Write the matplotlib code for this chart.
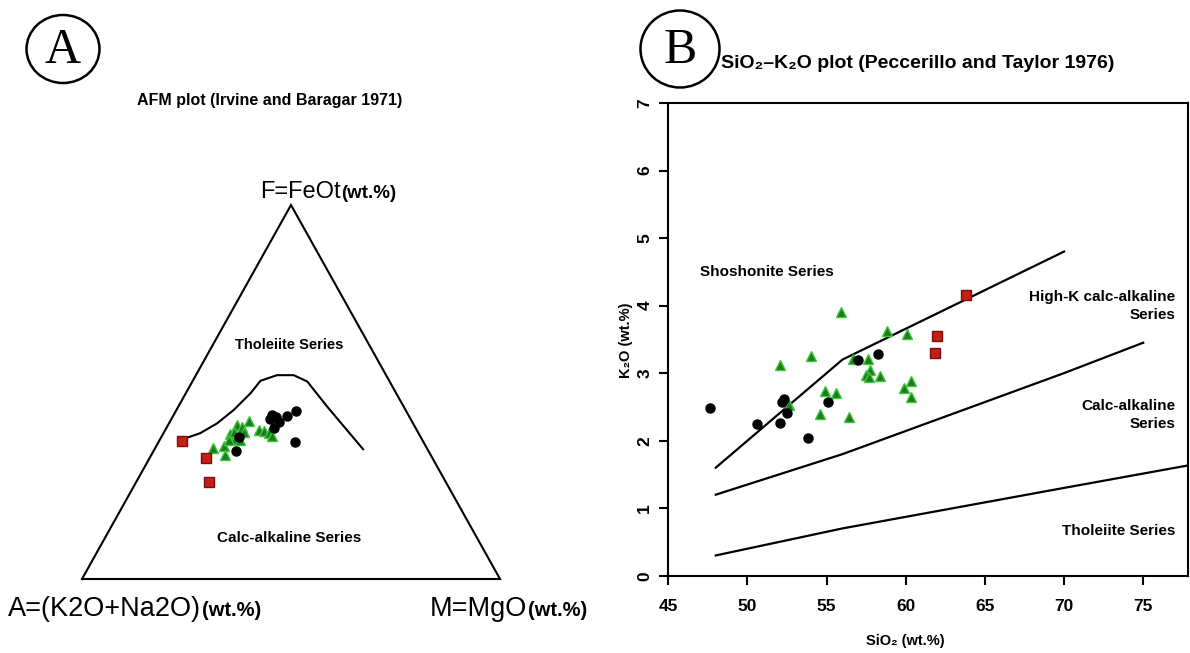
import matplotlib
matplotlib.use('Agg')
import matplotlib.pyplot as plt
from matplotlib.patches import Ellipse
import numpy as np

# ---------------- Panel A data (ternary, %): A=(K2O+Na2O), F=FeOt, M=MgO
curve_A = [56.5, 52.2, 46.9, 41.1, 34.8, 30.8, 26.1, 22.1, 19.7, 18.3, 15.4]
curve_F = [37.6, 39.0, 41.6, 45.2, 49.7, 53.0, 54.5, 54.5, 52.8, 46.1, 34.7]
curve_M = [5.9, 8.8, 11.5, 13.7, 15.5, 16.2, 19.4, 23.4, 27.5, 35.6, 49.9]

red_A = [57.6, 54.2, 56.5]
red_F = [36.9, 32.3, 26.0]
red_M = [5.5, 13.5, 17.5]

black_A = [32.6, 32.0, 31.9, 29.1, 26.4, 34.0, 30.6, 43.4, 46.0, 33.7]
black_F = [43.9, 43.4, 42.1, 43.6, 45.0, 40.3, 36.7, 37.9, 34.3, 42.7]
black_M = [23.5, 24.6, 26.0, 27.3, 28.6, 25.7, 32.7, 18.7, 19.7, 23.6]

green_A = [51.3, 48.3, 49.1, 45.2, 42.3, 41.4, 39.0, 44.6, 44.0, 37.7, 36.5, 35.8, 35.4, 43.5, 46.3, 41.6]
green_F = [34.9, 35.6, 33.2, 38.8, 41.2, 40.7, 42.2, 37.4, 39.4, 39.8, 39.7, 39.1, 38.2, 37.2, 37.2, 39.4]
green_M = [13.8, 16.1, 17.7, 16.0, 16.5, 17.9, 18.8, 18.0, 16.6, 22.5, 23.8, 25.1, 26.4, 19.3, 16.5, 19.0]

# ---------------- Panel B data: SiO2 vs K2O (wt.%)
line_th_x = [48, 52, 56, 63, 70, 78]
line_th_y = [0.3, 0.5, 0.7, 1.0, 1.3, 1.64]
line_ca_x = [48, 52, 56, 63, 70, 75]
line_ca_y = [1.2, 1.5, 1.8, 2.4, 3.0, 3.45]
line_hk_x = [48, 52, 56, 63, 70]
line_hk_y = [1.6, 2.4, 3.2, 4.0, 4.8]

b_black_x = [47.63, 50.58, 52.06, 52.31, 52.16, 52.52, 53.84, 55.07, 57.00, 58.27]
b_black_y = [2.49, 2.25, 2.26, 2.61, 2.57, 2.41, 2.04, 2.57, 3.20, 3.28]
b_green_x = [52.05, 54.00, 55.91, 52.62, 54.90, 55.57, 54.58, 56.43, 56.69, 57.63,
             57.74, 57.47, 57.68, 58.37, 58.80, 60.06, 59.89, 60.33, 60.31]
b_green_y = [3.12, 3.26, 3.91, 2.53, 2.73, 2.71, 2.40, 2.35, 3.21, 3.21,
             3.04, 2.97, 2.94, 2.95, 3.62, 3.58, 2.78, 2.89, 2.65]
b_red_x = [63.79, 61.96, 61.85]
b_red_y = [4.16, 3.55, 3.30]

x_ticks = [45, 50, 55, 60, 65, 70, 75]
y_ticks = [0, 1, 2, 3, 4, 5, 6, 7]

# ---------------- figure
W, H = 1190, 653
fig = plt.figure(figsize=(W / 100, H / 100), dpi=100)
FONT = ['Liberation Sans', 'DejaVu Sans']
plt.rcParams['font.family'] = FONT


def fx(px):
    return px / W


def fy(py):
    return 1 - py / H


GREEN_FC, GREEN_EC = '#1f7a1f', '#39c839'
RED_FC, RED_EC = '#c41e16', '#7a0e0a'

# ---------------- Panel A
SQ = np.sqrt(3) / 2
axA = fig.add_axes([fx(82), fy(579), 418 / W, 374 / H])
axA.set_xlim(0, 1)
axA.set_ylim(0, SQ)
axA.axis('off')


def tern(a, f, m):
    a, f, m = (np.asarray(v, float) for v in (a, f, m))
    s = a + f + m
    return (m + f / 2) / s, (f * SQ) / s


axA.plot([0, 1, 0.5, 0], [0, 0, SQ, 0], color='black', lw=1.5,
         clip_on=False, solid_joinstyle='miter')
cx, cy = tern(curve_A, curve_F, curve_M)
axA.plot(cx, cy, color='black', lw=1.5)
gx, gy = tern(green_A, green_F, green_M)
axA.plot(gx, gy, ls='none', marker='^', ms=7, mfc=GREEN_FC, mec=GREEN_EC, mew=1)
bx, by = tern(black_A, black_F, black_M)
axA.plot(bx, by, ls='none', marker='o', ms=6.5, mfc='black', mec='black')
rx, ry = tern(red_A, red_F, red_M)
axA.plot(rx, ry, ls='none', marker='s', ms=6.5, mfc=RED_FC, mec=RED_EC, mew=1)

fig.text(fx(289), fy(345), 'Tholeiite Series', ha='center', va='center',
         fontsize=10.5, fontweight='bold')
fig.text(fx(289), fy(538), 'Calc-alkaline Series', ha='center', va='center',
         fontsize=11, fontweight='bold')
fig.text(fx(137), fy(101), 'AFM plot (Irvine and Baragar 1971)', ha='left',
         va='center', fontsize=11.5, fontweight='bold')


def two_part(px, py, main, suffix, s1, s2):
    t = fig.text(fx(px), fy(py), main, ha='left', va='baseline', fontsize=s1)
    fig.canvas.draw()
    bb = t.get_window_extent()
    fig.text(bb.x1 / W + 1 / W, fy(py), suffix, ha='left', va='baseline',
             fontsize=s2, fontweight='bold')


two_part(260, 198, 'F=FeOt', '(wt.%)', 17, 13.5)
two_part(8, 616, 'A=(K2O+Na2O)', '(wt.%)', 19.5, 14.5)
two_part(430, 616, 'M=MgO', '(wt.%)', 19.5, 14.5)

# ---------------- Panel B
x0, x1, y0, y1 = 668.3, 1188, 575.7, 103
axB = fig.add_axes([fx(x0), fy(y0), (x1 - x0) / W, (y0 - y1) / H])
axB.set_xlim(45, 45 + (x1 - x0) / 15.83)
axB.set_ylim(0, 7)
for s in axB.spines.values():
    s.set_linewidth(1.5)
axB.plot(line_th_x, line_th_y, color='black', lw=1.6)
axB.plot(line_ca_x, line_ca_y, color='black', lw=1.6)
axB.plot(line_hk_x, line_hk_y, color='black', lw=1.6)
axB.plot(b_green_x, b_green_y, ls='none', marker='^', ms=7.5, mfc=GREEN_FC,
         mec=GREEN_EC, mew=1)
axB.plot(b_black_x, b_black_y, ls='none', marker='o', ms=6.5, mfc='black',
         mec='black')
axB.plot(b_red_x, b_red_y, ls='none', marker='s', ms=7, mfc=RED_FC,
         mec=RED_EC, mew=1)

axB.set_xticks(x_ticks)
axB.set_xticklabels([str(v) for v in x_ticks])
axB.set_yticks(y_ticks)
axB.set_yticklabels([str(v) for v in y_ticks], rotation=90, va='center')
axB.tick_params(axis='both', direction='out', length=6.5, width=1.5,
                labelsize=12.5)
axB.tick_params(axis='x', pad=10)
axB.tick_params(axis='y', pad=5)
for lab in axB.get_xticklabels() + axB.get_yticklabels():
    lab.set_fontweight('bold')

fig.text(fx(905), fy(641), 'SiO\u2082 (wt.%)', ha='center', va='center',
         fontsize=10.5, fontweight='bold')
fig.text(fx(626), fy(340), 'K\u2082O (wt.%)', ha='center', va='center',
         rotation=90, fontsize=10.5, fontweight='bold')

fig.text(fx(700), fy(272), 'Shoshonite Series', ha='left', va='center',
         fontsize=11, fontweight='bold')
fig.text(fx(1175), fy(306), 'High-K calc-alkaline\nSeries', ha='right',
         va='center', fontsize=11, fontweight='bold', linespacing=1.35)
fig.text(fx(1175), fy(415), 'Calc-alkaline\nSeries', ha='right',
         va='center', fontsize=11, fontweight='bold', linespacing=1.35)
fig.text(fx(1175), fy(531), 'Tholeiite Series', ha='right', va='center',
         fontsize=11, fontweight='bold')
fig.text(fx(721), fy(63), 'SiO\u2082\u2013K\u2082O plot (Peccerillo and Taylor 1976)',
         ha='left', va='center', fontsize=14, fontweight='bold')

# ---------------- circled letters
for (cxp, cyp, w, h, letter) in [(63, 49, 73, 68, 'A'), (680, 49, 79, 77, 'B')]:
    fig.patches.append(Ellipse((fx(cxp), fy(cyp)), w / W, h / H,
                               transform=fig.transFigure, fill=False,
                               ec='black', lw=1.8))
    fig.text(fx(cxp), fy(cyp + 2), letter, ha='center', va='center',
             fontsize=36, family=['Liberation Serif', 'DejaVu Serif'])

fig.savefig('out.png', dpi=100)
